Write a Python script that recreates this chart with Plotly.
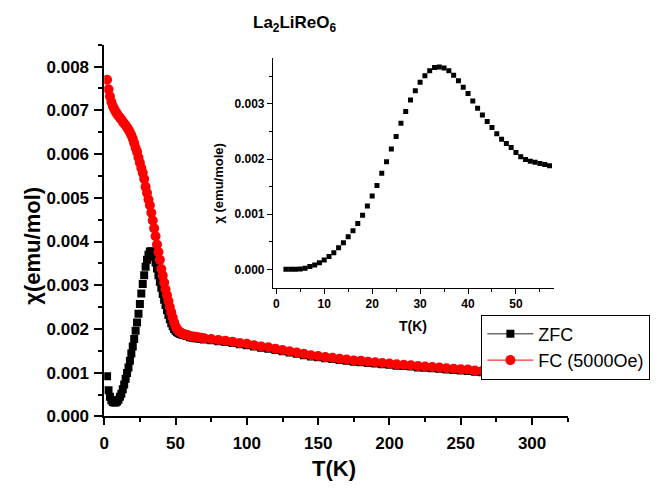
import plotly.graph_objects as go

# ---------------- data ----------------
T_zfc = [2, 3, 4, 5, 6, 7, 8, 9, 10, 11, 12, 13, 14, 15, 16, 17, 18, 19, 20,
         21, 22, 23, 24, 25, 26, 27, 28, 29, 30, 31, 32, 33, 34, 35, 36, 37, 38,
         39, 40, 41, 42, 43, 44, 45, 46, 47, 48, 49, 50, 51, 52, 53, 54, 55, 56,
         57, 58, 60, 62, 64, 66, 68, 70, 75, 80, 85, 90, 95, 100, 105, 110, 115,
         120, 125, 130, 135, 140, 145, 150, 155, 160, 165, 170, 175, 180, 185,
         190, 195, 200, 205, 210, 215, 220, 225, 230, 235, 240, 245, 250, 255,
         260, 265, 270, 275, 280, 285, 290, 295, 300]
chi_zfc = [0.00092, 0.00060, 0.00045, 0.00037, 0.00033, 0.00032, 0.00032, 0.00034,
           0.00038, 0.00045, 0.00052, 0.00062, 0.00073, 0.00086, 0.00099, 0.00112,
           0.00127, 0.00144, 0.00160, 0.00177, 0.00196, 0.00215, 0.00235, 0.00257,
           0.00281, 0.00303, 0.00323, 0.00342, 0.00358, 0.00370, 0.00377, 0.00378,
           0.00374, 0.00365, 0.00352, 0.00338, 0.00323, 0.00308, 0.00294, 0.00280,
           0.00267, 0.00255, 0.00243, 0.00232, 0.00222, 0.00213, 0.00206, 0.00200,
           0.00196, 0.00193, 0.00191, 0.00189, 0.00188, 0.00187, 0.00186, 0.00185,
           0.00184, 0.00181, 0.00180, 0.00179, 0.00178, 0.00177, 0.00176, 0.00174,
           0.00172, 0.00170, 0.00168, 0.00165, 0.00163, 0.00160, 0.00157, 0.00155,
           0.00152, 0.00149, 0.00146, 0.00143, 0.00140, 0.00137, 0.00135, 0.00133,
           0.00131, 0.00129, 0.00127, 0.00125, 0.00124, 0.00122, 0.00121, 0.00119,
           0.00118, 0.00116, 0.00115, 0.00114, 0.00112, 0.00111, 0.00110, 0.00109,
           0.00107, 0.00106, 0.00105, 0.00104, 0.00102, 0.00101, 0.00100, 0.00098,
           0.00097, 0.00096, 0.00095, 0.00094, 0.00093]

T_fc = [2, 3, 4, 5, 6, 7, 8, 9, 10, 11, 12, 13, 14, 15, 16, 17, 18, 19, 20,
        21, 22, 23, 24, 25, 26, 27, 28, 29, 30, 31, 32, 33, 34, 35, 36, 37, 38,
        39, 40, 41, 42, 43, 44, 45, 46, 47, 48, 49, 50, 51, 52, 53, 54, 55, 56,
        57, 58, 59, 60, 62, 64, 66, 68, 70, 75, 80, 85, 90, 95, 100, 105, 110,
        115, 120, 125, 130, 135, 140, 145, 150, 155, 160, 165, 170, 175, 180,
        185, 190, 195, 200, 205, 210, 215, 220, 225, 230, 235, 240, 245, 250,
        255, 260, 265, 270, 275, 280, 285, 290, 295, 300]
chi_fc = [0.00770, 0.00748, 0.00732, 0.00719, 0.00710, 0.00703, 0.00697, 0.00692,
          0.00687, 0.00683, 0.00679, 0.00674, 0.00670, 0.00666, 0.00661, 0.00656,
          0.00650, 0.00643, 0.00635, 0.00625, 0.00614, 0.00605, 0.00592, 0.00580,
          0.00568, 0.00557, 0.00543, 0.00525, 0.00511, 0.00496, 0.00483, 0.00466,
          0.00448, 0.00430, 0.00412, 0.00393, 0.00376, 0.00358, 0.00337, 0.00322,
          0.00306, 0.00291, 0.00277, 0.00264, 0.00250, 0.00238, 0.00226, 0.00215,
          0.00206, 0.00200, 0.00196, 0.00193, 0.00191, 0.00189, 0.00188, 0.00187,
          0.00186, 0.00185, 0.00184, 0.00183, 0.00182, 0.00181, 0.00180, 0.00179,
          0.00177, 0.00175, 0.00173, 0.00171, 0.00168, 0.00166, 0.00163, 0.00160,
          0.00158, 0.00155, 0.00152, 0.00149, 0.00146, 0.00143, 0.00140, 0.00138,
          0.00136, 0.00134, 0.00132, 0.00130, 0.00128, 0.00127, 0.00125, 0.00124,
          0.00122, 0.00121, 0.00119, 0.00118, 0.00117, 0.00115, 0.00114, 0.00113,
          0.00112, 0.00110, 0.00109, 0.00108, 0.00107, 0.00105, 0.00104, 0.00103,
          0.00101, 0.00100, 0.00099, 0.00098, 0.00097, 0.00096]

T_inset = [2, 3, 4, 5, 6, 7, 8, 9, 10, 11, 12, 13, 14, 15, 16, 17, 18, 19, 20,
           21, 22, 23, 24, 25, 26, 27, 28, 29, 30, 31, 32, 33, 34, 35, 36, 37,
           38, 39, 40, 41, 42, 43, 44, 45, 46, 47, 48, 49, 50, 51, 52, 53, 54,
           55, 56, 57]
chi_inset = [0.0, 0.0, 0.0, 0.000006, 0.00002, 0.00005, 0.00008, 0.00012, 0.00017,
             0.00023, 0.00030, 0.00039, 0.00048, 0.00059, 0.00070, 0.00083,
             0.00098, 0.00115, 0.00133, 0.00152, 0.00174, 0.00195, 0.00218,
             0.00241, 0.00265, 0.00286, 0.00307, 0.00324, 0.00339, 0.00351,
             0.00360, 0.00366, 0.00367, 0.00365, 0.00360, 0.00352, 0.00342,
             0.00330, 0.00319, 0.00305, 0.00292, 0.00280, 0.00268, 0.00257,
             0.00246, 0.00236, 0.00228, 0.00221, 0.00212, 0.00204, 0.00199,
             0.00196, 0.00194, 0.00192, 0.00190, 0.00188]

W, H = 661, 494
FONT = "Liberation Sans, Arial, sans-serif"

def px_x(a, b):
    return [a / W, b / W]

def px_y(top, bottom):
    return [1 - bottom / H, 1 - top / H]

fig = go.Figure()

# main traces
fig.add_trace(go.Scatter(x=T_zfc, y=chi_zfc, mode="markers", name="ZFC",
                         marker=dict(symbol="square", size=8, color="black"),
                         showlegend=False, xaxis="x", yaxis="y"))
fig.add_trace(go.Scatter(x=T_fc, y=chi_fc, mode="markers", name="FC (5000Oe)",
                         marker=dict(symbol="circle", size=10, color="red"),
                         showlegend=False, xaxis="x", yaxis="y"))
# legend entries
fig.add_trace(go.Scatter(x=[None], y=[None], mode="lines+markers", name="ZFC",
                         line=dict(color="#6e6e6e", width=1.6),
                         marker=dict(symbol="square", size=8, color="black")))
fig.add_trace(go.Scatter(x=[None], y=[None], mode="lines+markers", name="FC (5000Oe)",
                         line=dict(color="red", width=1),
                         marker=dict(symbol="circle", size=10, color="red")))
# inset
fig.add_trace(go.Scatter(x=T_inset, y=chi_inset, mode="markers", name="inset",
                         marker=dict(symbol="square", size=5, color="black"),
                         showlegend=False, xaxis="x2", yaxis="y2"))

axis_common = dict(showline=True, linecolor="black", linewidth=1.5, ticks="outside",
                   tickcolor="black", tickwidth=1.5, showgrid=False, zeroline=False,
                   mirror=False)

def ann(text, xp, yp, size, angle=0):
    return dict(text=text, x=xp / W, y=1 - yp / H, xref="paper", yref="paper",
                xanchor="center", yanchor="middle", textangle=angle,
                showarrow=False, font=dict(size=size, family=FONT, color="black"))

fig.update_layout(
    width=W, height=H,
    margin=dict(l=0, r=0, t=0, b=0),
    paper_bgcolor="white", plot_bgcolor="white",
    font=dict(family=FONT, color="black"),
    xaxis=dict(domain=px_x(100, 567), range=[0, 325], dtick=50, tick0=0,
               ticklen=7, ticklabelstandoff=3,
               tickfont=dict(size=17, family=FONT, weight="bold"),
               minor=dict(dtick=25, ticks="outside", ticklen=4, tickcolor="black", tickwidth=1.5),
               anchor="y", **axis_common),
    yaxis=dict(domain=px_y(45.7, 425), range=[0, 0.0085], dtick=0.001, tick0=0,
               tickformat=".3f", ticklen=8, ticklabelstandoff=2,
               tickfont=dict(size=17, family=FONT, weight="bold"),
               minor=dict(dtick=0.0005, ticks="outside", ticklen=4, tickcolor="black", tickwidth=1.5),
               anchor="x", **axis_common),
    xaxis2=dict(domain=px_x(270, 553), range=[-0.7, 57.9], dtick=10, tick0=0,
                ticklen=5, tickfont=dict(size=12, family=FONT, weight="bold"),
                minor=dict(dtick=5, ticks="outside", ticklen=3, tickcolor="black", tickwidth=1),
                anchor="y2", **{**axis_common, "linewidth": 1, "tickwidth": 1}),
    yaxis2=dict(domain=px_y(59.3, 294), range=[-0.00034, 0.00383], dtick=0.001, tick0=0,
                tickformat=".3f", ticklen=5, tickfont=dict(size=12, family=FONT, weight="bold"),
                minor=dict(dtick=0.0005, ticks="outside", ticklen=3, tickcolor="black", tickwidth=1),
                anchor="x2", **{**axis_common, "linewidth": 1, "tickwidth": 1}),
    legend=dict(x=480 / W, y=1 - 321 / H, xanchor="left", yanchor="top",
                bgcolor="white", bordercolor="black", borderwidth=1,
                font=dict(size=18, family=FONT, color="black"), tracegroupgap=0,
                itemwidth=46),
    annotations=[
        ann("<b>La<sub>2</sub>LiReO<sub>6</sub></b>", 292, 24, 17),
        ann("<b>χ(emu/mol)</b>", 28, 251, 22, -90),
        ann("<b>T(K)</b>", 332, 478, 22),
        ann("<b>χ (emu/mole)</b>", 215, 187, 13, -90),
        ann("<b>T(K)</b>", 411, 333, 14),
    ],
)

fig.write_html("out.html", config={"displayModeBar": False},
               post_script="document.body.style.margin='0';document.body.style.padding='0';")
